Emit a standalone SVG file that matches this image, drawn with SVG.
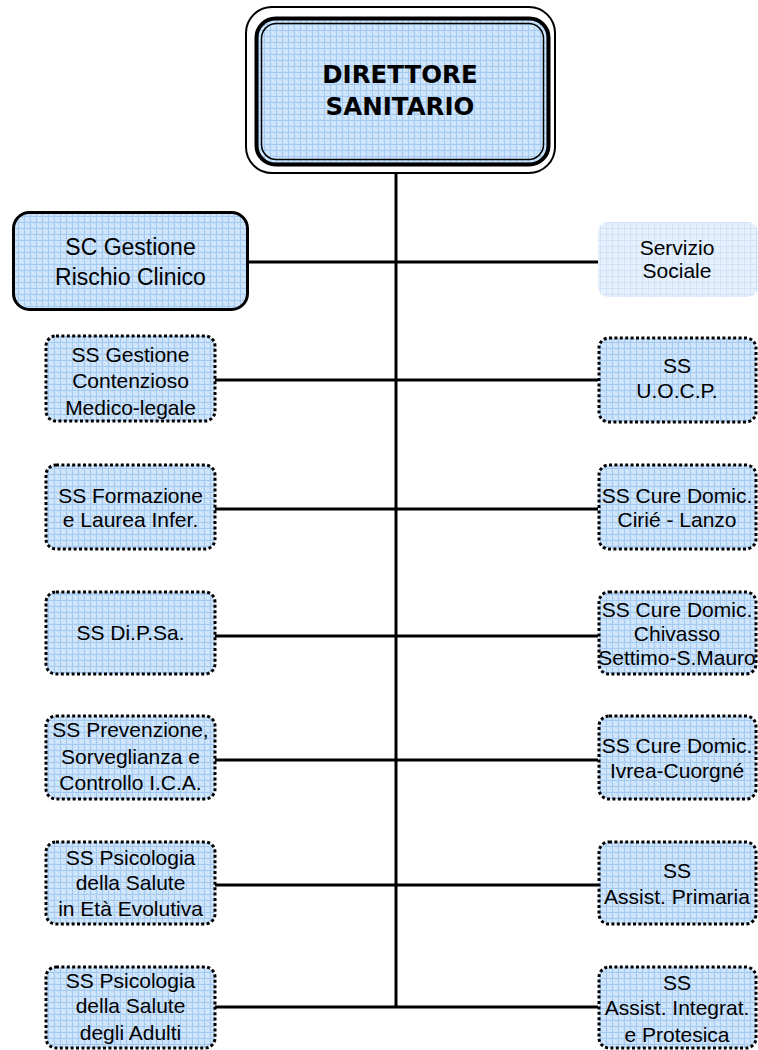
<svg xmlns="http://www.w3.org/2000/svg" width="758" height="1050" viewBox="0 0 758 1050">
<defs>
<pattern id="grid" width="6" height="6" patternUnits="userSpaceOnUse">
<rect width="6" height="6" fill="#cae1fa"/>
<rect x="1" y="1" width="2" height="2" fill="#d6e8fc"/>
<rect x="3" y="3" width="2" height="2" fill="#d6e8fc"/>
<path d="M0 0.5H6M0.5 0V6" stroke="#a4caf1" stroke-width="1" fill="none"/>
</pattern>
<pattern id="gridLight" width="6" height="6" patternUnits="userSpaceOnUse">
<rect width="6" height="6" fill="#e6f1fd"/>
<path d="M0 0.5H6M0.5 0V6" stroke="#cfe2f7" stroke-width="1" fill="none"/>
</pattern>
</defs>
<style>
.t{font-family:"Liberation Sans",Arial,sans-serif;font-size:21px;fill:#000;text-anchor:middle}
.tb{font-family:"DejaVu Sans",Verdana,sans-serif;font-weight:bold;font-size:24.5px;fill:#000;text-anchor:middle}
.ss{fill:url(#grid);stroke:#000;stroke-width:3;stroke-dasharray:3 2.4}
.sc{fill:url(#grid);stroke:#000;stroke-width:3}
.ln{stroke:#000;stroke-width:3;fill:none}
</style>
<g id="connectors">
<path class="ln" d="M396 173V1007"/>
<path class="ln" d="M248 262H598"/>
<path class="ln" d="M215 380H598"/>
<path class="ln" d="M215 509H598"/>
<path class="ln" d="M215 636H598"/>
<path class="ln" d="M215 760H598"/>
<path class="ln" d="M215 885H598"/>
<path class="ln" d="M215 1007H598"/>
</g>
<g id="direttore">
<rect x="246" y="7" width="309" height="166" rx="26" fill="#fff" stroke="#000" stroke-width="2"/>
<rect x="256.5" y="18.5" width="292" height="146" rx="19" fill="url(#grid)" stroke="#000" stroke-width="4"/>
<rect x="261.5" y="23.5" width="282" height="136" rx="15" fill="none" stroke="#000" stroke-width="1.5"/>
<text class="tb" x="400" y="83">DIRETTORE</text>
<text class="tb" x="400" y="115">SANITARIO</text>
</g>
<g id="sc-rischio">
<rect class="sc" x="13.5" y="212.5" width="234" height="97" rx="16"/>
<text class="t" x="130.5" y="255" style="font-size:23px">SC Gestione</text>
<text class="t" x="130.5" y="285" style="font-size:23px">Rischio Clinico</text>
</g>
<g id="servizio-sociale">
<rect x="598" y="222" width="160" height="75" rx="10" fill="url(#gridLight)"/>
<text class="t" x="677" y="255">Servizio</text>
<text class="t" x="677" y="278">Sociale</text>
</g>
<g id="ss-contenzioso">
<rect class="ss" x="46" y="336" width="169" height="85" rx="10"/>
<text class="t" x="130.5" y="362">SS Gestione</text>
<text class="t" x="130.5" y="388">Contenzioso</text>
<text class="t" x="130.5" y="415">Medico-legale</text>
</g>
<g id="ss-formazione">
<rect class="ss" x="46" y="465" width="169" height="84" rx="10"/>
<text class="t" x="130.5" y="503">SS Formazione</text>
<text class="t" x="130.5" y="527">e Laurea Infer.</text>
</g>
<g id="ss-dipsa">
<rect class="ss" x="46" y="592" width="169" height="82" rx="10"/>
<text class="t" x="130.5" y="640">SS Di.P.Sa.</text>
</g>
<g id="ss-prevenzione">
<rect class="ss" x="46" y="716" width="169" height="83" rx="10"/>
<text class="t" x="130.5" y="737">SS Prevenzione,</text>
<text class="t" x="130.5" y="764">Sorveglianza e</text>
<text class="t" x="130.5" y="790">Controllo I.C.A.</text>
</g>
<g id="ss-psico-evolutiva">
<rect class="ss" x="46" y="842" width="169" height="82" rx="10"/>
<text class="t" x="130.5" y="865">SS Psicologia</text>
<text class="t" x="130.5" y="890">della Salute</text>
<text class="t" x="130.5" y="916">in Età Evolutiva</text>
</g>
<g id="ss-psico-adulti">
<rect class="ss" x="46" y="967" width="169" height="81" rx="10"/>
<text class="t" x="130.5" y="988">SS Psicologia</text>
<text class="t" x="130.5" y="1013">della Salute</text>
<text class="t" x="130.5" y="1040">degli Adulti</text>
</g>
<g id="ss-uocp">
<rect class="ss" x="599" y="338" width="157" height="84" rx="10"/>
<text class="t" x="677" y="373">SS</text>
<text class="t" x="677" y="398">U.O.C.P.</text>
</g>
<g id="ss-cirie">
<rect class="ss" x="599" y="465" width="157" height="84" rx="10"/>
<text class="t" x="677" y="503">SS Cure Domic.</text>
<text class="t" x="677" y="527">Cirié - Lanzo</text>
</g>
<g id="ss-chivasso">
<rect class="ss" x="599" y="592" width="157" height="82" rx="10"/>
<text class="t" x="677" y="617">SS Cure Domic.</text>
<text class="t" x="677" y="641">Chivasso</text>
<text class="t" x="677" y="665">Settimo-S.Mauro</text>
</g>
<g id="ss-ivrea">
<rect class="ss" x="599" y="716" width="157" height="83" rx="10"/>
<text class="t" x="677" y="753">SS Cure Domic.</text>
<text class="t" x="677" y="778">Ivrea-Cuorgné</text>
</g>
<g id="ss-primaria">
<rect class="ss" x="599" y="842" width="157" height="82" rx="10"/>
<text class="t" x="677" y="878">SS</text>
<text class="t" x="677" y="904">Assist. Primaria</text>
</g>
<g id="ss-integrat">
<rect class="ss" x="599" y="967" width="157" height="81" rx="10"/>
<text class="t" x="677" y="990">SS</text>
<text class="t" x="677" y="1015">Assist. Integrat.</text>
<text class="t" x="677" y="1042">e Protesica</text>
</g>
</svg>
